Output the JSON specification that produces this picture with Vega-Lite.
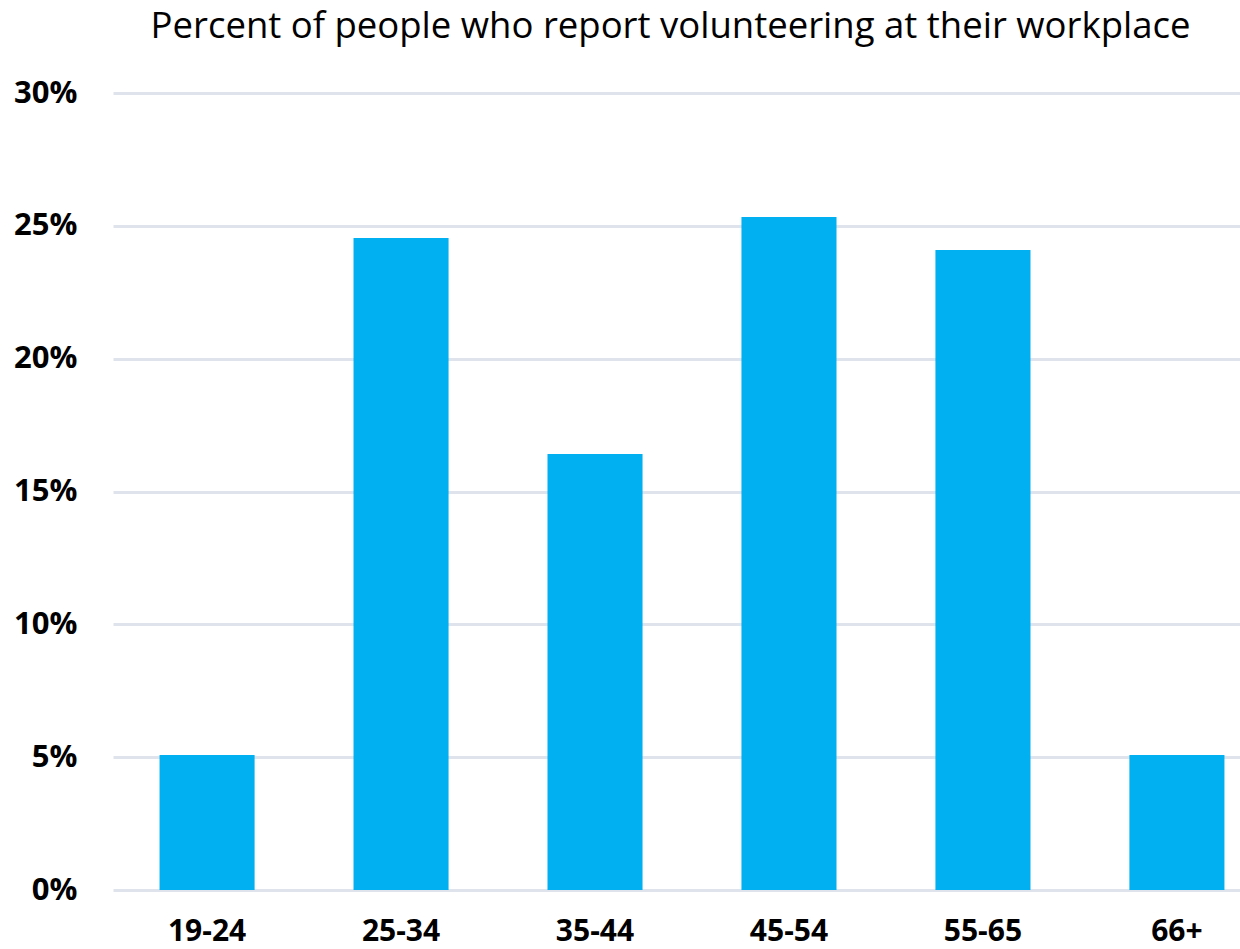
{
  "$schema": "https://vega.github.io/schema/vega-lite/v6.json",
  "autosize": {"type": "none"},
  "padding": {"left": 113, "top": 93, "right": 0, "bottom": 59},
  "width": 1127,
  "height": 797,
  "background": "white",
  "title": {
    "text": "Percent of people who report volunteering at their workplace",
    "font": "Open Sans",
    "fontSize": 36.5,
    "fontWeight": "normal",
    "color": "#000000",
    "anchor": "middle",
    "dx": -6,
    "offset": 32
  },
  "data": {
    "values": [
      {"age": "19-24", "pct": 0.0508},
      {"age": "25-34", "pct": 0.2454},
      {"age": "35-44", "pct": 0.1641},
      {"age": "45-54", "pct": 0.2533},
      {"age": "55-65", "pct": 0.2409},
      {"age": "66+", "pct": 0.0508}
    ]
  },
  "mark": {"type": "bar", "color": "#00b0f0"},
  "encoding": {
    "x": {
      "field": "age",
      "type": "nominal",
      "sort": null,
      "scale": {"range": [0, 1158], "paddingInner": 0.51, "paddingOuter": 0.24},
      "axis": {
        "title": null,
        "labelAngle": 0,
        "labelFont": "Open Sans",
        "labelFontSize": 30,
        "labelFontWeight": "bold",
        "labelColor": "#000000",
        "labelPadding": 26,
        "ticks": false,
        "domain": false,
        "grid": false
      }
    },
    "y": {
      "field": "pct",
      "type": "quantitative",
      "scale": {"domain": [0, 0.3], "nice": false},
      "axis": {
        "title": null,
        "format": ".0%",
        "values": [0, 0.05, 0.1, 0.15, 0.2, 0.25, 0.3],
        "labelFont": "Open Sans",
        "labelFontSize": 31,
        "labelFontWeight": "bold",
        "labelColor": "#000000",
        "labelPadding": 36,
        "ticks": false,
        "domain": false,
        "grid": true,
        "gridColor": "#dfe4ec",
        "gridWidth": 3
      }
    }
  },
  "config": {"view": {"stroke": null}}
}
